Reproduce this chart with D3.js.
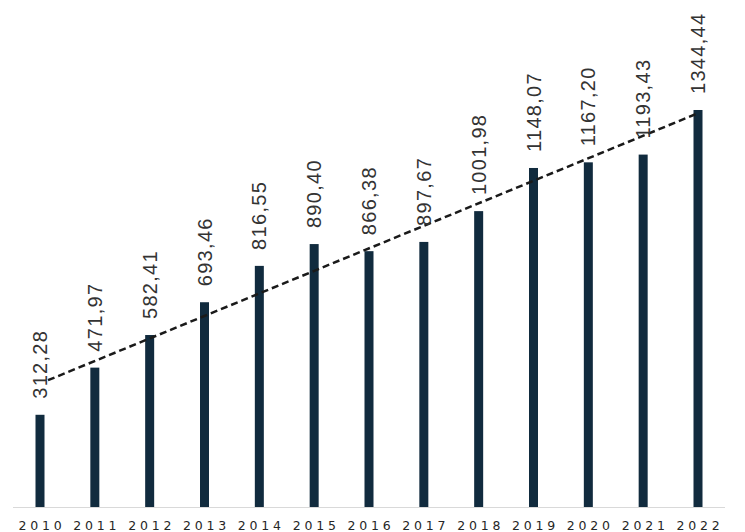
<!DOCTYPE html>
<html>
<head>
<meta charset="utf-8">
<script src="https://cdn.jsdelivr.net/npm/d3@7"></script>
<style>
  body { margin: 0; background: #fff; }
  svg { display: block; }
</style>
</head>
<body>
<div id="chart"></div>
<script>
const years = ["2010", "2011", "2012", "2013", "2014", "2015", "2016", "2017", "2018", "2019", "2020", "2021", "2022"];
const values = [312.28, 471.97, 582.41, 693.46, 816.55, 890.40, 866.38, 897.67, 1001.98, 1148.07, 1167.20, 1193.43, 1344.44];

let width = 745;
let height = 532;
let baseY = 507;
let barW = 9;

const svg = d3.select('#chart')
.append('svg')
.attr("width", width)
.attr("height", height);

let x = d3.scalePoint()
.domain(years)
.range([40, 698]);

let y = d3.scaleLinear()
.domain([0, 1700])
.range([baseY, 5]);

// baseline
svg.append("line")
.attr("x1", 13)
.attr("x2", 725)
.attr("y1", baseY + 0.5)
.attr("y2", baseY + 0.5)
.attr("stroke", "#d9d9d9")
.attr("stroke-width", 1);

let data = years.map((yr, i) => ({year: yr, value: values[i]}));

svg.append("g")
.selectAll("rect")
.data(data)
.enter()
.append("rect")
.attr("x", d => x(d.year) - barW / 2)
.attr("y", d => y(d.value))
.attr("width", barW)
.attr("height", d => baseY - y(d.value))
.attr("fill", "#112b3e");

// linear trendline (least squares, like the spreadsheet one)
let n = values.length;
let mx = d3.mean(d3.range(n));
let my = d3.mean(values);
let slope = d3.sum(values, (v, i) => (i - mx) * (v - my)) / d3.sum(d3.range(n), i => (i - mx) * (i - mx));
let icpt = my - slope * mx;

svg.append("line")
.attr("x1", x(years[0]) + 8)
.attr("y1", y(icpt + slope * (8 / x.step())))
.attr("x2", x(years[n - 1]))
.attr("y2", y(icpt + slope * (n - 1)))
.attr("stroke", "#1a1a1a")
.attr("stroke-width", 2.5)
.attr("stroke-dasharray", "7,4");

// value labels
svg.append("g")
.selectAll("text")
.data(data)
.enter()
.append("text")
.attr("transform", d => "translate(" + x(d.year) + "," + (y(d.value) - 16) + ") rotate(-90)")
.attr("dominant-baseline", "central")
.attr("font-family", "'Liberation Sans', Arial, sans-serif")
.attr("font-size", 20)
.attr("letter-spacing", 1.3)
.attr("fill", "#333333")
.text(d => d.value.toFixed(2).replace(".", ","));

// year labels
svg.append("g")
.selectAll("text")
.data(years)
.enter()
.append("text")
.attr("x", d => x(d) + 2)
.attr("y", 529.5)
.attr("text-anchor", "middle")
.attr("font-family", "'DejaVu Sans', Verdana, sans-serif")
.attr("font-size", 12.5)
.attr("letter-spacing", 3.8)
.attr("fill", "#262626")
.text(d => d);
</script>
</body>
</html>
